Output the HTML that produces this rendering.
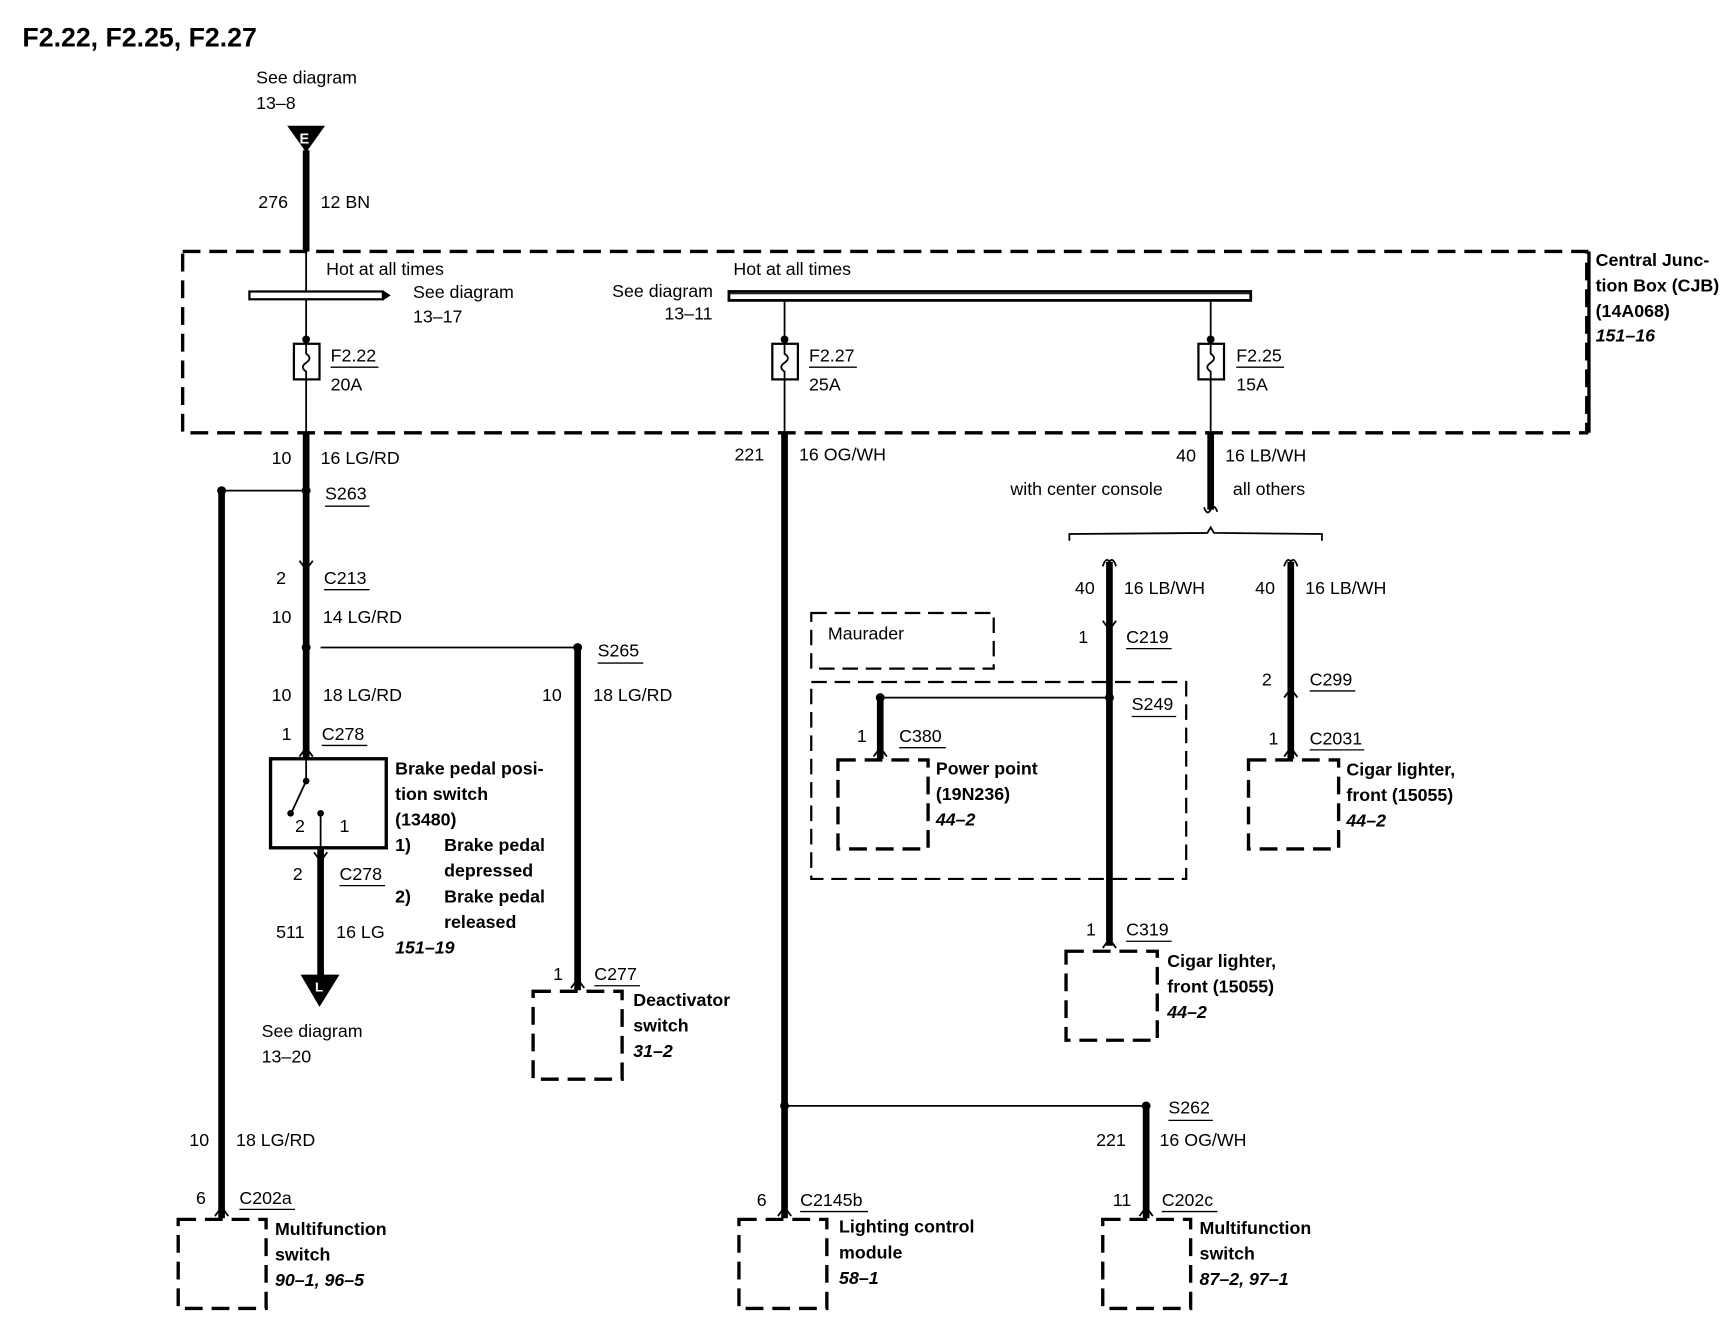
<!DOCTYPE html>
<html><head><meta charset="utf-8"><style>
html,body{margin:0;padding:0;background:#fff;}
svg{display:block}
text{font-family:"Liberation Sans",sans-serif;font-size:16px;fill:#000}
.b{font-weight:bold}
.i{font-weight:bold;font-style:italic}
.th{stroke:#000;stroke-width:6;fill:none}
.tn{stroke:#000;stroke-width:1.6;fill:none}
.d{stroke:#000;stroke-width:3;fill:none;stroke-dasharray:16 8}
.ds{stroke:#000;stroke-width:2;fill:none;stroke-dasharray:14 7}
.u{stroke:#000;stroke-width:1.2}
</style></head><body>
<svg width="1736" height="1344" viewBox="0 0 1560 1208" xmlns="http://www.w3.org/2000/svg">
<text x="20" y="42" class="b" style="font-size:24px">F2.22, F2.25, F2.27</text>
<!-- top feed -->
<text x="230" y="75">See diagram</text><text x="230" y="98">13–8</text>
<polygon points="258,113 292,113 275,137" fill="#000"/>
<text x="269" y="129" style="font-size:13px;fill:#fff" class="b">E</text>
<line x1="275" y1="135" x2="275" y2="226" class="th"/>
<text x="232" y="187">276</text><text x="288" y="187">12 BN</text>
<!-- CJB -->
<rect x="164" y="226" width="1262" height="163" class="d"/>
<text x="1434" y="239" class="b">Central Junc-</text>
<text x="1434" y="262" class="b">tion Box (CJB)</text>
<text x="1434" y="285" class="b">(14A068)</text>
<text x="1434" y="307" class="i">151–16</text>
<line x1="1428" y1="226" x2="1428" y2="389" stroke="#000" stroke-width="3"/>
<!-- bus 1 -->
<line x1="275" y1="226" x2="275" y2="305" class="tn"/>
<rect x="224" y="262" width="120" height="7" fill="#fff" stroke="#000" stroke-width="2"/>
<polygon points="344,261 351,265.5 344,270" fill="#000"/>
<text x="293" y="247">Hot at all times</text>
<text x="371" y="268">See diagram</text><text x="371" y="290">13–17</text>
<!-- bus 2 -->
<rect x="655" y="262" width="469" height="8" fill="#fff" stroke="#000" stroke-width="2.5"/>
<line x1="655" y1="264" x2="1124" y2="264" stroke="#000" stroke-width="1"/>
<text x="659" y="247">Hot at all times</text>
<text x="550" y="267">See diagram</text><text x="597" y="287">13–11</text>
<!-- fuses -->
<g id="fz">
</g>
<line x1="705" y1="270" x2="705" y2="305" class="tn"/>
<line x1="1088" y1="270" x2="1088" y2="305" class="tn"/>
<circle cx="275" cy="305" r="3.5"/><circle cx="705" cy="305" r="3.5"/><circle cx="1088" cy="305" r="3.5"/>
<rect x="264" y="309" width="23" height="32" fill="#fff" stroke="#000" stroke-width="2"/>
<rect x="694" y="309" width="23" height="32" fill="#fff" stroke="#000" stroke-width="2"/>
<rect x="1077" y="309" width="23" height="32" fill="#fff" stroke="#000" stroke-width="2"/>
<path d="M275,309 L275,318 Q281,322 275,326 Q269,330 275,334 L275,341" class="tn"/>
<path d="M705,309 L705,318 Q711,322 705,326 Q699,330 705,334 L705,341" class="tn"/>
<path d="M1088,309 L1088,318 Q1094,322 1088,326 Q1082,330 1088,334 L1088,341" class="tn"/>
<line x1="275" y1="341" x2="275" y2="389" class="tn"/>
<line x1="705" y1="341" x2="705" y2="389" class="tn"/>
<line x1="1088" y1="341" x2="1088" y2="389" class="tn"/>
<text x="297" y="325">F2.22</text><line x1="297" y1="330" x2="340" y2="330" class="u"/><text x="297" y="351">20A</text>
<text x="727" y="325">F2.27</text><line x1="727" y1="330" x2="770" y2="330" class="u"/><text x="727" y="351">25A</text>
<text x="1111" y="325">F2.25</text><line x1="1111" y1="330" x2="1154" y2="330" class="u"/><text x="1111" y="351">15A</text>

<!-- left branch -->
<line x1="275" y1="389" x2="275" y2="582" class="th"/>
<text x="244" y="417">10</text><text x="288" y="417">16 LG/RD</text>
<circle cx="275" cy="441" r="4"/><circle cx="199" cy="441" r="4"/>
<line x1="199" y1="441" x2="275" y2="441" class="tn"/>
<text x="292" y="449">S263</text><line x1="292" y1="455" x2="332" y2="455" class="u"/>
<path d="M269,504 L275,512 L281,504" class="tn" stroke-width="2.5"/>
<text x="248" y="525">2</text><text x="291" y="525">C213</text><line x1="291" y1="530" x2="332" y2="530" class="u"/>
<text x="244" y="560">10</text><text x="290" y="560">14 LG/RD</text>
<circle cx="275" cy="582" r="4"/>
<line x1="288" y1="582" x2="519" y2="582" class="tn"/>
<circle cx="519" cy="582" r="4"/>
<text x="537" y="590">S265</text><line x1="537" y1="596" x2="578" y2="596" class="u"/>
<line x1="275" y1="582" x2="275" y2="682" class="th"/>
<text x="244" y="630">10</text><text x="290" y="630">18 LG/RD</text>
<path d="M269,680 L275,672 L281,680" class="tn" stroke-width="2.5"/>
<text x="253" y="665">1</text><text x="289" y="665">C278</text><line x1="289" y1="670" x2="330" y2="670" class="u"/>
<rect x="243" y="682" width="104" height="80" fill="#fff" stroke="#000" stroke-width="3"/>
<line x1="275" y1="682" x2="275" y2="700" class="tn"/>
<circle cx="275" cy="702" r="3"/>
<line x1="275" y1="702" x2="262" y2="730" class="tn"/>
<circle cx="261" cy="731" r="3"/>
<circle cx="288" cy="731" r="3"/>
<line x1="288" y1="731" x2="288" y2="762" class="tn"/>
<text x="265" y="748">2</text><text x="305" y="748">1</text>
<text x="355" y="696" class="b">Brake pedal posi-</text>
<text x="355" y="719" class="b">tion switch</text>
<text x="355" y="742" class="b">(13480)</text>
<text x="355" y="765" class="b">1)</text><text x="399" y="765" class="b">Brake pedal</text>
<text x="399" y="788" class="b">depressed</text>
<text x="355" y="811" class="b">2)</text><text x="399" y="811" class="b">Brake pedal</text>
<text x="399" y="834" class="b">released</text>
<text x="355" y="857" class="i">151–19</text>
<line x1="288" y1="762" x2="288" y2="880" class="th"/>
<path d="M282,766 L288,774 L294,766" class="tn" stroke-width="2.5"/>
<text x="263" y="791">2</text><text x="305" y="791">C278</text><line x1="305" y1="796" x2="346" y2="796" class="u"/>
<text x="248" y="843">511</text><text x="302" y="843">16 LG</text>
<polygon points="270,876 305,876 287,905" fill="#000"/>
<text x="283" y="891" style="font-size:12px;fill:#fff" class="b">L</text>
<text x="235" y="932">See diagram</text><text x="235" y="955">13–20</text>
<!-- S265 wire -->
<line x1="519" y1="582" x2="519" y2="890" class="th"/>
<text x="487" y="630">10</text><text x="533" y="630">18 LG/RD</text>
<path d="M513,888 L519,880 L525,888" class="tn" stroke-width="2.5"/>
<text x="497" y="881">1</text><text x="534" y="881">C277</text><line x1="534" y1="886" x2="575" y2="886" class="u"/>
<rect x="479" y="891" width="80" height="79" class="d"/>
<text x="569" y="904" class="b">Deactivator</text>
<text x="569" y="927" class="b">switch</text>
<text x="569" y="950" class="i">31–2</text>
<!-- long left -->
<line x1="199" y1="441" x2="199" y2="1095" class="th"/>
<text x="170" y="1030">10</text><text x="212" y="1030">18 LG/RD</text>
<path d="M193,1093 L199,1085 L205,1093" class="tn" stroke-width="2.5"/>
<text x="176" y="1082">6</text><text x="215" y="1082">C202a</text><line x1="215" y1="1087" x2="265" y2="1087" class="u"/>
<rect x="160" y="1096" width="79" height="80" class="d"/>
<text x="247" y="1110" class="b">Multifunction</text>
<text x="247" y="1133" class="b">switch</text>
<text x="247" y="1156" class="i">90–1, 96–5</text>

<!-- middle -->
<line x1="705" y1="389" x2="705" y2="1095" class="th"/>
<text x="660" y="414">221</text><text x="718" y="414">16 OG/WH</text>
<circle cx="705" cy="994" r="4"/>
<line x1="705" y1="994" x2="1030" y2="994" class="tn"/>
<circle cx="1030" cy="994" r="4"/>
<text x="1050" y="1001">S262</text><line x1="1050" y1="1007" x2="1090" y2="1007" class="u"/>
<path d="M699,1093 L705,1085 L711,1093" class="tn" stroke-width="2.5"/>
<text x="680" y="1084">6</text><text x="719" y="1084">C2145b</text><line x1="719" y1="1089" x2="780" y2="1089" class="u"/>
<rect x="664" y="1096" width="79" height="80" class="d"/>
<text x="754" y="1108" class="b">Lighting control</text>
<text x="754" y="1131" class="b">module</text>
<text x="754" y="1154" class="i">58–1</text>
<line x1="1030" y1="994" x2="1030" y2="1095" class="th"/>
<text x="985" y="1030">221</text><text x="1042" y="1030">16 OG/WH</text>
<path d="M1024,1093 L1030,1085 L1036,1093" class="tn" stroke-width="2.5"/>
<text x="1000" y="1084">11</text><text x="1044" y="1084">C202c</text><line x1="1044" y1="1089" x2="1094" y2="1089" class="u"/>
<rect x="991" y="1096" width="79" height="80" class="d"/>
<text x="1078" y="1109" class="b">Multifunction</text>
<text x="1078" y="1132" class="b">switch</text>
<text x="1078" y="1155" class="i">87–2, 97–1</text>

<!-- right -->
<line x1="1088" y1="389" x2="1088" y2="458" class="th"/>
<path d="M1082,456 Q1085,464 1088,458 Q1091,452 1094,460" class="tn" stroke-width="2.5"/>
<text x="1057" y="415">40</text><text x="1101" y="415">16 LB/WH</text>
<text x="908" y="445">with center console</text><text x="1108" y="445">all others</text>
<path d="M961,486 L961,480 L1085,479 L1088,474 L1091,479 L1188,480 L1188,486" class="tn" stroke-width="2.5"/>
<line x1="997" y1="505" x2="997" y2="850" class="th"/>
<path d="M991,509 Q994,500 997,505 Q1000,500 1003,509" class="tn" stroke-width="2.5"/>
<line x1="1160" y1="505" x2="1160" y2="682" class="th"/>
<path d="M1154,509 Q1157,500 1160,505 Q1163,500 1166,509" class="tn" stroke-width="2.5"/>
<text x="966" y="534">40</text><text x="1010" y="534">16 LB/WH</text>
<text x="1128" y="534">40</text><text x="1173" y="534">16 LB/WH</text>
<path d="M991,558 L997,566 L1003,558" class="tn" stroke-width="2.5"/>
<text x="969" y="578">1</text><text x="1012" y="578">C219</text><line x1="1012" y1="583" x2="1053" y2="583" class="u"/>
<rect x="729" y="551" width="164" height="50" class="ds"/>
<text x="744" y="575">Maurader</text>
<rect x="729" y="613" width="337" height="177" class="ds"/>
<circle cx="997" cy="627" r="4"/>
<line x1="791" y1="627" x2="997" y2="627" class="tn"/>
<circle cx="791" cy="627" r="4"/>
<text x="1017" y="638">S249</text><line x1="1017" y1="644" x2="1057" y2="644" class="u"/>
<line x1="791" y1="627" x2="791" y2="682" class="th"/>
<path d="M785,680 L791,672 L797,680" class="tn" stroke-width="2.5"/>
<text x="770" y="667">1</text><text x="808" y="667">C380</text><line x1="808" y1="672" x2="850" y2="672" class="u"/>
<rect x="753" y="683" width="81" height="80" class="d"/>
<text x="841" y="696" class="b">Power point</text>
<text x="841" y="719" class="b">(19N236)</text>
<text x="841" y="742" class="i">44–2</text>
<path d="M1154,627 L1160,619 L1166,627" class="tn" stroke-width="2.5"/>
<text x="1134" y="616">2</text><text x="1177" y="616">C299</text><line x1="1177" y1="621" x2="1218" y2="621" class="u"/>
<path d="M1154,680 L1160,672 L1166,680" class="tn" stroke-width="2.5"/>
<text x="1140" y="669">1</text><text x="1177" y="669">C2031</text><line x1="1177" y1="674" x2="1226" y2="674" class="u"/>
<rect x="1122" y="683" width="81" height="80" class="d"/>
<text x="1210" y="697" class="b">Cigar lighter,</text>
<text x="1210" y="720" class="b">front (15055)</text>
<text x="1210" y="743" class="i">44–2</text>
<path d="M991,852 L997,844 L1003,852" class="tn" stroke-width="2.5"/>
<text x="976" y="841">1</text><text x="1012" y="841">C319</text><line x1="1012" y1="846" x2="1053" y2="846" class="u"/>
<rect x="958" y="855" width="82" height="80" class="d"/>
<text x="1049" y="869" class="b">Cigar lighter,</text>
<text x="1049" y="892" class="b">front (15055)</text>
<text x="1049" y="915" class="i">44–2</text>
</svg>
</body></html>
